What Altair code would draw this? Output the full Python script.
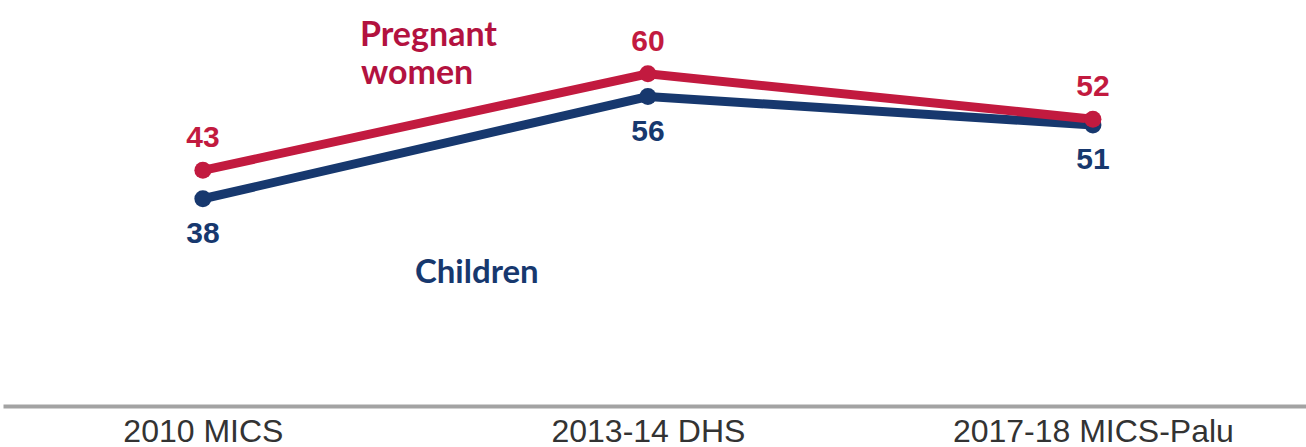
import altair as alt
import pandas as pd

categories = ["2010 MICS", "2013-14 DHS", "2017-18 MICS-Palu"]
pregnant = [43, 60, 52]
children = [38, 56, 51]

series_names = ["Children", "Pregnant women"]
series_colors = ["#17386E", "#C21A3F"]

ann_text = ["Pregnant", "women", "Children"]
ann_series = ["Pregnant women", "Pregnant women", "Children"]
ann_cat = ["2013-14 DHS", "2013-14 DHS", "2013-14 DHS"]
ann_value = [66.6, 60.0, 24.9]
ann_dx = [-288, -287, -233]
ann_size = [34, 34, 33]
ann_colors = ["#B3123F", "#B3123F", "#17386E"]

rows = []
for c, v in zip(categories, children):
    rows.append({"cat": c, "value": v, "series": "Children", "order": 0})
for c, v in zip(categories, pregnant):
    rows.append({"cat": c, "value": v, "series": "Pregnant women", "order": 1})
df = pd.DataFrame(rows)

ann = pd.DataFrame({"text": ann_text, "series": ann_series, "cat": ann_cat,
                    "value": ann_value})

xenc = alt.X("cat:N", sort=categories, title=None,
             scale=alt.Scale(type="point", padding=0.464, align=0.484),
             axis=alt.Axis(labelAngle=0, ticks=False, tickSize=0, domainColor="#A3A3A3",
                           domainWidth=4, labelFont="Liberation Sans", labelFontSize=32,
                           labelColor="#333333", labelPadding=10, labelLimit=0,
                           grid=False))
yenc = alt.Y("value:Q", title=None, axis=None,
             scale=alt.Scale(domain=[1.5, 73], zero=False))
color = alt.Color("series:N", scale=alt.Scale(domain=series_names, range=series_colors),
                  legend=None)

base = alt.Chart(df)
lines = base.mark_line(strokeWidth=9).encode(x=xenc, y=yenc, color=color,
                                             detail="series:N", order=alt.Order("order:Q"))
points = base.mark_point(filled=True, size=290, opacity=1).encode(
    x=xenc, y=yenc, color=color, order=alt.Order("order:Q"))

lab_red = alt.Chart(df[df.series == "Pregnant women"]).mark_text(
    font="Liberation Sans", fontSize=30, fontWeight="bold", dy=-32, baseline="middle"
).encode(x=xenc, y=yenc, text="value:Q", color=color)
lab_blue = alt.Chart(df[df.series == "Children"]).mark_text(
    font="Liberation Sans", fontSize=30, fontWeight="bold", dy=35, baseline="middle"
).encode(x=xenc, y=yenc, text="value:Q", color=color)

ann_layers = []
for i in range(len(ann)):
    sub = ann.iloc[[i]]
    ann_layers.append(
        alt.Chart(sub).mark_text(font="Lato", fontSize=ann_size[i], fontWeight="bold",
                                 align="left", baseline="middle", dx=int(ann_dx[i]),
                                 color=ann_colors[i]
                                 ).encode(x=xenc, y=yenc, text="text:N")
    )

chart = alt.layer(lines, points, lab_red, lab_blue, *ann_layers).properties(
    width=1303, height=406,
    background="white",
    autosize=alt.AutoSizeParams(type="none"),
    padding={"left": 3, "top": 0, "right": 0, "bottom": 41},
).configure_view(stroke=None, strokeWidth=0)

chart.save("out.html", embed_options={"renderer": "svg", "actions": False})
